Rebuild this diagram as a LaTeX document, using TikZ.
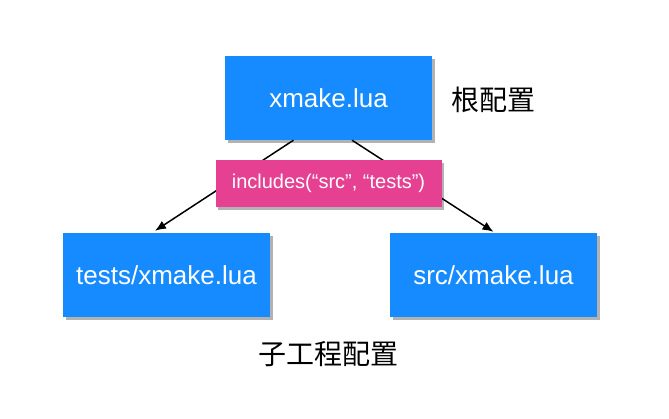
\documentclass[tikz,border=0pt]{standalone}
\usepackage{fontspec}
\setmainfont{Liberation Sans}
\newfontfamily\cjk{Noto Sans CJK SC}
\usetikzlibrary{arrows.meta,shadows}
\definecolor{boxblue}{RGB}{21,139,255}
\definecolor{boxpink}{RGB}{229,64,146}
\tikzset{
  bluebox/.style={fill=boxblue, draw=none, text=white, minimum width=207pt, minimum height=84pt,
    inner sep=0pt, font=\fontsize{26}{30}\selectfont,
    drop shadow={shadow xshift=2.5pt, shadow yshift=-3pt, fill=black, opacity=0.3}},
  pinkbox/.style={fill=boxpink, draw=none, text=white, minimum width=226pt, minimum height=47pt,
    inner sep=0pt, font=\fontsize{20}{24}\selectfont,
    drop shadow={shadow xshift=2.5pt, shadow yshift=-3pt, fill=black, opacity=0.3}},
  cjklabel/.style={font=\cjk\fontsize{28}{32}\selectfont, text=black, inner sep=0pt},
  conn/.style={line width=1.5pt, -{Latex[length=11pt,width=9pt]}}
}
\begin{document}
\begin{tikzpicture}[x=1pt,y=-1pt]
\useasboundingbox (0,0) rectangle (669,418);
\node[bluebox] (top) at (328.5,98) {xmake.lua};
\node[bluebox] (left) at (166.5,275) {tests/xmake.lua};
\node[bluebox] (right) at (493.5,275) {src/xmake.lua};
\draw[conn] ([xshift=-35pt]top.south) -- ([xshift=-11.5pt,yshift=2pt]left.north);
\draw[conn] ([xshift=23.5pt]top.south) -- ([yshift=1pt]right.north);
\node[pinkbox] (inc) at (328.5,183.5) {includes(“src”, “tests”)};
\node[cjklabel] (root) at (493,100) {根配置};
\node[cjklabel] (sub) at (328,354.5) {子工程配置};
\end{tikzpicture}
\end{document}
